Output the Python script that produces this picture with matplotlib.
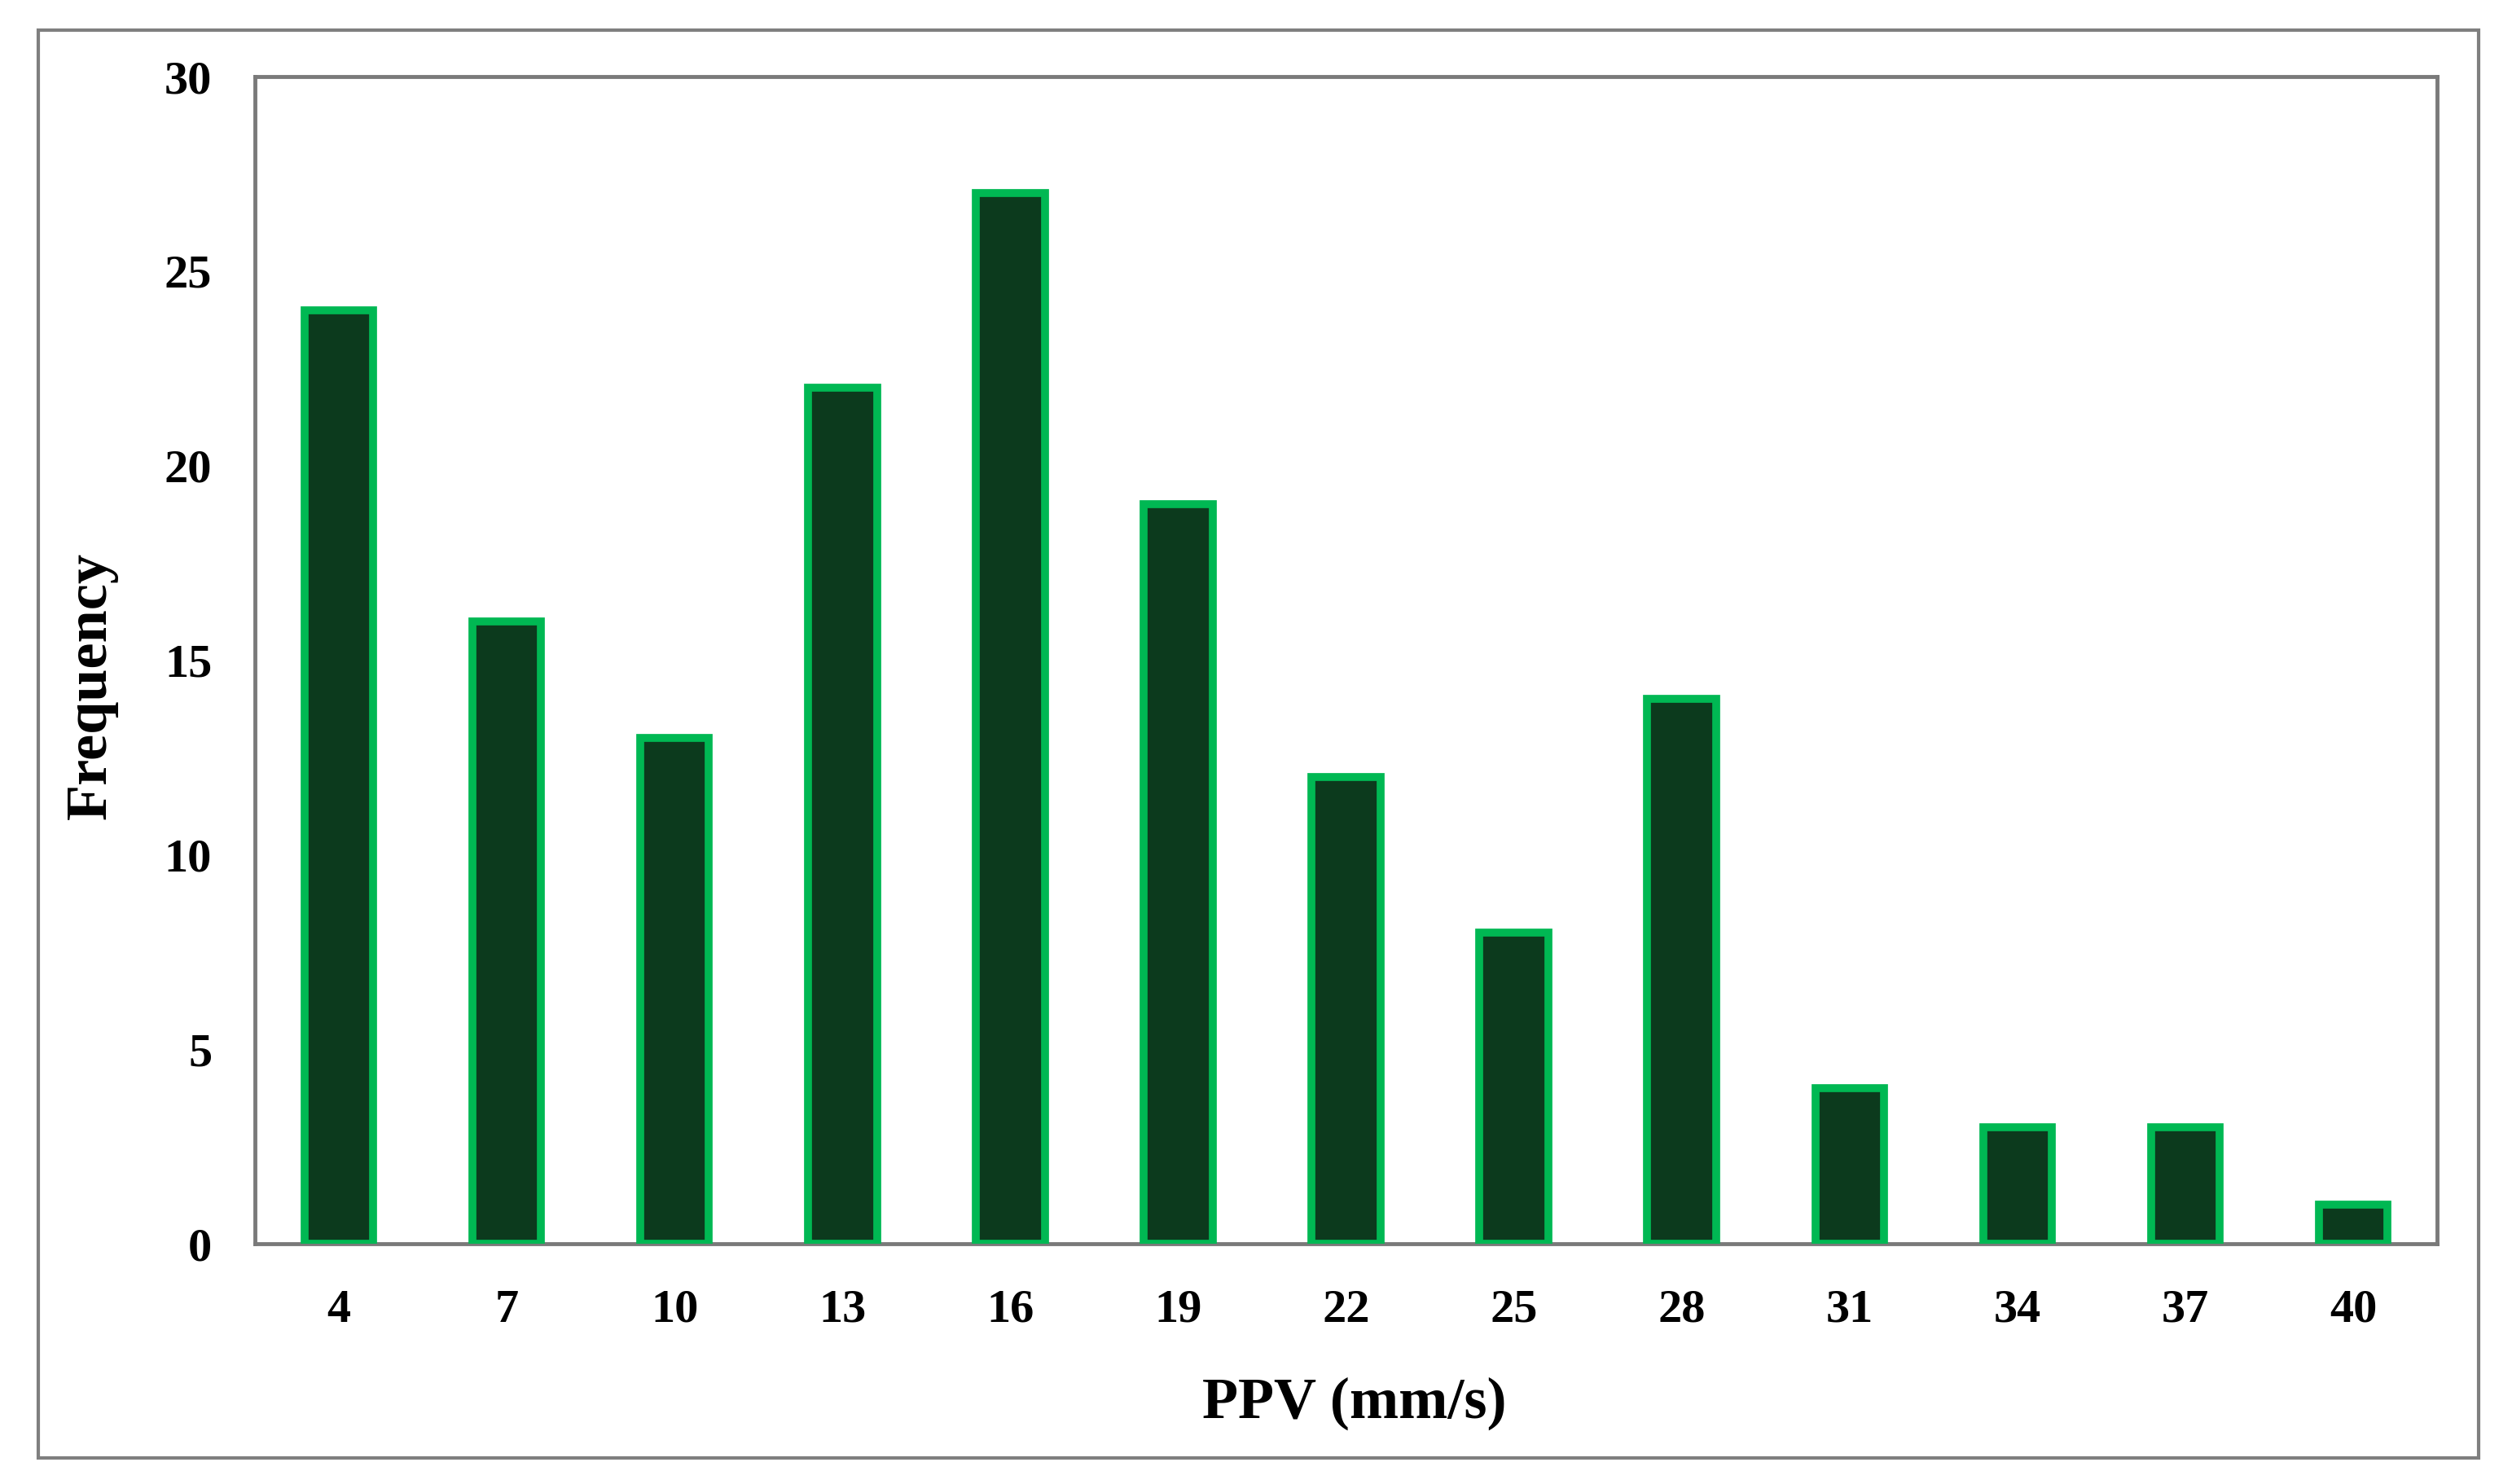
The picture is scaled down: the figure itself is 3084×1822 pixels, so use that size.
import matplotlib
matplotlib.use("Agg")
import matplotlib.pyplot as plt
from matplotlib.patches import Rectangle

# PPV bins (mm/s) and counts
ppv_bins = ["4", "7", "10", "13", "16", "19", "22", "25", "28", "31", "34", "37", "40"]
frequency = [24, 16, 13, 22, 27, 19, 12, 8, 14, 4, 3, 3, 1]
y_ticks = [0, 5, 10, 15, 20, 25, 30]

plt.rcParams["font.family"] = ["Liberation Serif", "DejaVu Serif"]
plt.rcParams["font.weight"] = "bold"

fig = plt.figure(figsize=(30.84, 18.22), dpi=100)
ax = fig.add_axes([0.1015, 0.1619, 0.8687, 0.7865])

# outer frame around the whole chart
frame = Rectangle((47 / 3084, 1 - 1790 / 1822), (3043 - 47) / 3084, (1790 - 37) / 1822,
                  transform=fig.transFigure, fill=False, edgecolor="#7f7f7f",
                  linewidth=3, zorder=0)
fig.patches.append(frame)

x = range(len(ppv_bins))
ax.bar(x, frequency, width=0.41, color="#0c3a1d", edgecolor="#00b853",
       linewidth=7, zorder=3)

ax.set_xlim(-0.5, len(ppv_bins) - 0.5)
ax.set_ylim(0, 30)
ax.set_xticks(list(x))
ax.set_xticklabels(ppv_bins)
ax.set_yticks(y_ticks)
ax.tick_params(axis="both", length=0, labelsize=42)
ax.tick_params(axis="x", pad=40)
ax.tick_params(axis="y", pad=38)
for lbl in ax.get_xticklabels() + ax.get_yticklabels():
    lbl.set_fontweight("bold")

for side in ["left", "right", "top", "bottom"]:
    ax.spines[side].set_color("#7a7a7a")
    ax.spines[side].set_linewidth(3.5)

fig.text(0.539, 0.0543, "PPV (mm/s)", ha="center", va="center",
         fontsize=52, fontweight="bold")
fig.text(0.0363, 0.5379, "Frequency", ha="center", va="center",
         rotation=90, fontsize=52, fontweight="bold")

fig.savefig("out.png", dpi=100)
